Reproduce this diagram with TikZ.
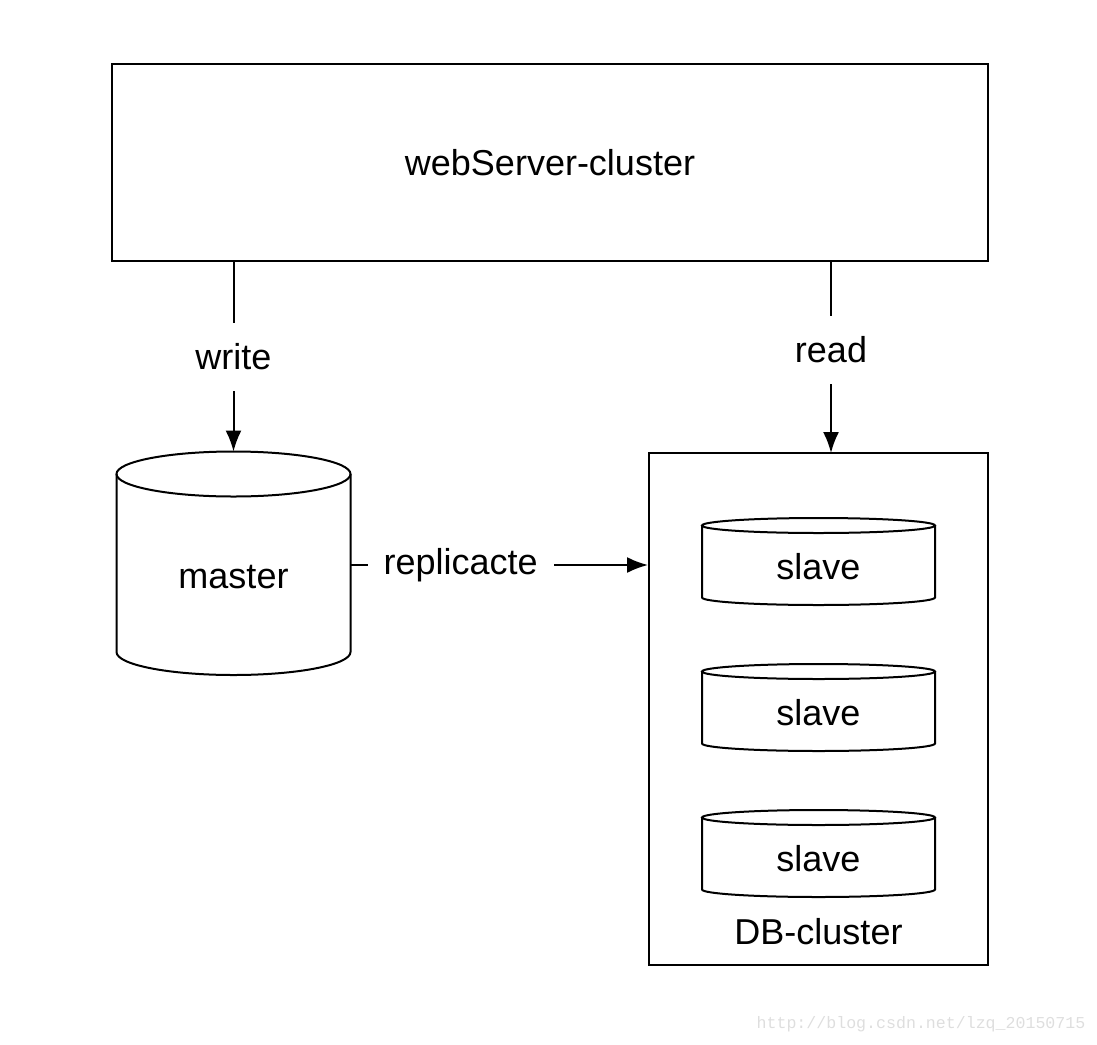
\documentclass[tikz,border=0pt]{standalone}
\usepackage{fontspec}
\setmainfont{Liberation Sans}
\newfontfamily\wmfont{Liberation Mono}
\usetikzlibrary{arrows.meta}

\tikzset{
  box/.style={draw, line width=1pt},
  cyl/.style={line width=1pt},
  lbl/.style={fill=white, inner xsep=8pt, minimum height=34pt},
  arr/.style={line width=1pt, -{Latex[length=10.5pt,width=8pt]}},
}

\begin{document}
\begin{tikzpicture}[x=0.5pt,y=-0.5pt,font=\fontsize{18}{22}\selectfont]
\useasboundingbox (0,0) rectangle (1097,1044);

\draw (550,162.5) node (web) [box, minimum width=438pt, minimum height=98.5pt] {webServer-cluster};

\draw (818.5,709) node (db) [box, minimum width=169.5pt, minimum height=256pt] {};
\draw (818.5,932) node (dbname) {DB-cluster};

% master
\draw[cyl] (116.5,474) -- (116.5,652) arc[start angle=180,end angle=0,x radius=117,y radius=23] -- (350.5,474);
\draw[cyl] (233.5,474) ellipse [x radius=117, y radius=22.5];
\draw (233.5,577) node (master) {master};
\coordinate (mastertop) at (233.5,451.5);
\coordinate (masterright) at (350.5,565);

% slaves
\draw[cyl] (702,525.5) -- (702,597.5) arc[start angle=180,end angle=0,x radius=116.5,y radius=7.5] -- (935,525.5);
\draw[cyl] (818.5,525.5) ellipse [x radius=116.5, y radius=7.5];
\draw (818.5,567) node (slave1) {slave};

\draw[cyl] (702,671.5) -- (702,743.5) arc[start angle=180,end angle=0,x radius=116.5,y radius=7.5] -- (935,671.5);
\draw[cyl] (818.5,671.5) ellipse [x radius=116.5, y radius=7.5];
\draw (818.5,713) node (slave2) {slave};

\draw[cyl] (702,817.5) -- (702,889.5) arc[start angle=180,end angle=0,x radius=116.5,y radius=7.5] -- (935,817.5);
\draw[cyl] (818.5,817.5) ellipse [x radius=116.5, y radius=7.5];
\draw (818.5,859) node (slave3) {slave};

% connectors
\coordinate (dbin) at (831,453);
\draw[arr] (web.south -| mastertop) -- node[lbl] {write} (mastertop);
\draw[arr] (web.south -| dbin) -- node[lbl,pos=0.46] {read} (dbin);
\draw[arr] (masterright) -- node[lbl,pos=0.37] {replicacte} (db.west |- masterright);

\draw (921,1024) node (wm) [text=black!13, font=\wmfont\fontsize{8.3}{10}\selectfont] {http://blog.csdn.net/lzq\_20150715};
\end{tikzpicture}
\end{document}
